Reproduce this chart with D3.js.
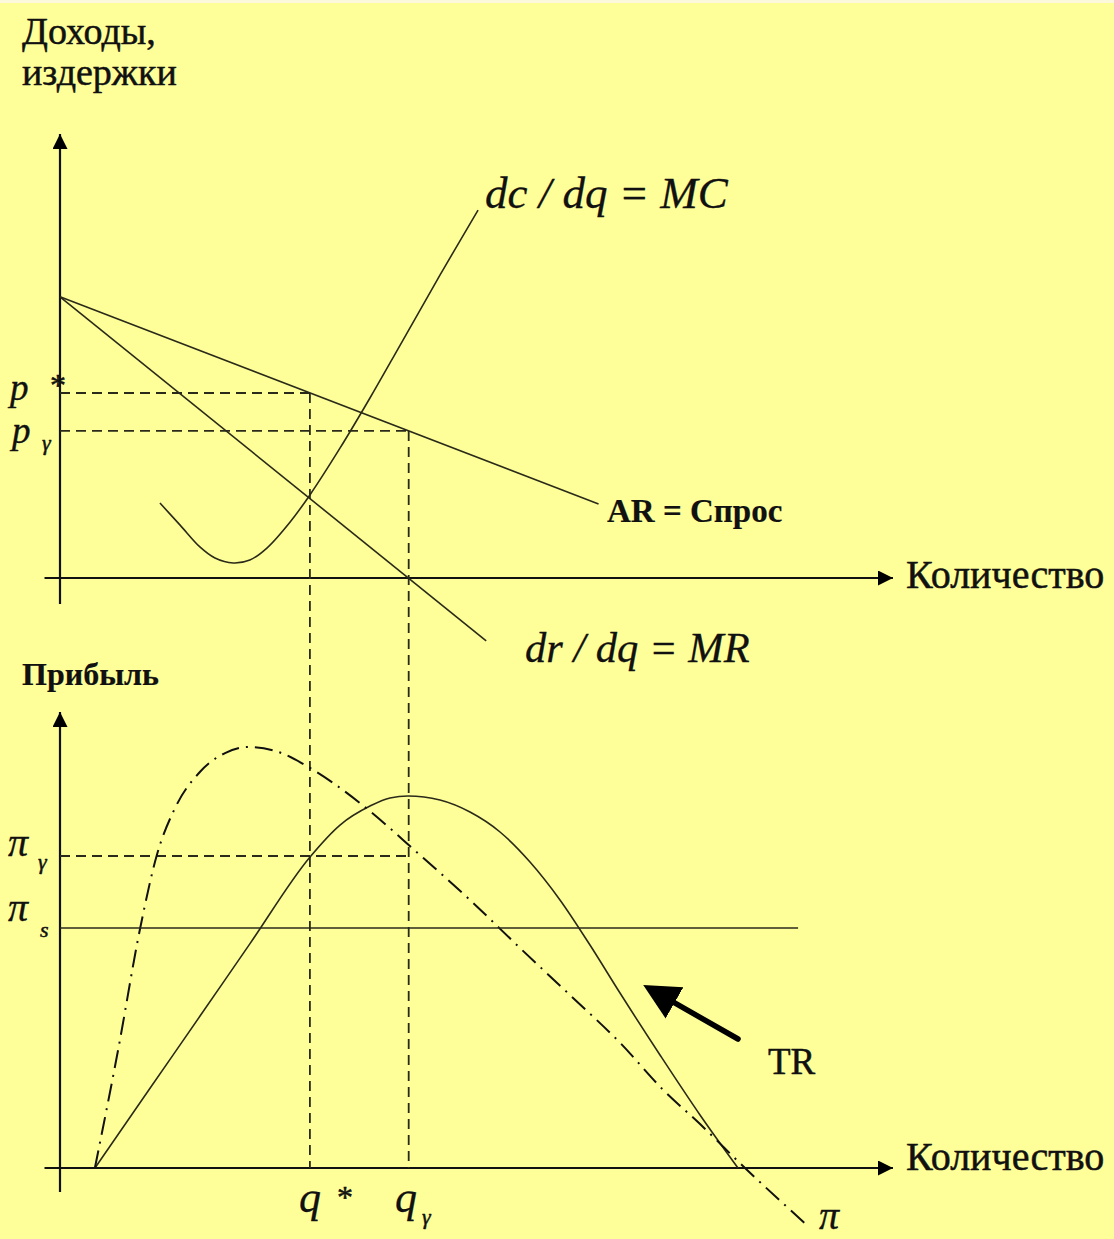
<!DOCTYPE html>
<html><head><meta charset="utf-8">
<script src="https://cdn.jsdelivr.net/npm/d3@7"></script>
<style>body{margin:0;background:#FFFF99;} svg{display:block;}</style>
</head><body>
<script>
// ---------- data ----------
// Top panel: revenues/costs vs quantity
const qStar = 6.45, qR = 9.0;
const pStar = 10.0, pR = 7.95;
const arQ = [0, 13.9], arP = [15.2, 4.0];              // AR = demand
const mrQ = [0, 11.0], mrP = [15.2, -3.4];             // MR
const mcQ = [2.58, 3.10, 3.61, 4.00, 4.47, 4.90, 5.34, 5.94, 6.45, 7.23, 8.00, 8.78, 9.81, 10.79];
const mcP = [4.05, 2.86, 1.68, 1.08, 0.81, 0.97, 1.62, 3.03, 4.49, 7.03, 9.73, 12.59, 16.38, 19.89];
// Bottom panel: profit vs quantity
const piR = 13.0, piS = 10.0, piSEnd = 19.05;
const trQ = [0.903, 2.323, 3.614, 4.904, 6.453, 7.227, 8.001, 8.517, 8.982, 9.808, 10.582, 11.357, 12.131, 12.905, 13.679, 14.454, 15.486, 16.519, 17.499];
const trV = [0, 3.32, 6.33, 9.35, 12.96, 14.29, 15.08, 15.42, 15.5, 15.33, 14.83, 14.0, 12.75, 11.17, 9.29, 7.29, 4.71, 2.21, 0];
const piQ = [0.90, 1.50, 2.07, 2.50, 2.97, 3.61, 4.26, 4.85, 5.55, 6.45, 7.74, 9.29, 10.58, 11.87, 13.16, 14.46, 15.57, 16.52, 17.68, 19.28];
const piV = [0, 4.92, 10.0, 13.04, 15.0, 16.5, 17.29, 17.54, 17.38, 16.67, 15.21, 13.04, 11.17, 9.17, 7.21, 5.21, 3.25, 1.83, 0, -2.38];
const trArrowQ = [17.50, 15.82], trArrowV = [5.375, 6.92];
const labels = {
  yTop1: "Доходы,", yTop2: "издержки", yBot: "Прибыль", x: "Количество",
  mc: "dc / dq = MC", mr: "dr / dq = MR", ar: "AR = Спрос", tr: "TR", pi: "π"
};

// ---------- scales ----------
const W = 1114, H = 1239;
const x = d3.scaleLinear().domain([0, 21.5]).range([60, 893]);
const yT = d3.scaleLinear().domain([0, 24]).range([578, 134]);
const yB = d3.scaleLinear().domain([0, 19]).range([1168, 712]);

const svg = d3.select("body").append("svg").attr("width", W).attr("height", H);
svg.append("rect").attr("width", W).attr("height", H).attr("fill", "#FFFF99");
svg.append("rect").attr("width", W).attr("height", 3).attr("fill", "#FBF8DC");

const defs = svg.append("defs");
defs.append("marker").attr("id", "ah").attr("viewBox", "0 0 10 10").attr("refX", 10).attr("refY", 5)
  .attr("markerWidth", 18).attr("markerHeight", 15).attr("markerUnits", "userSpaceOnUse").attr("orient", "auto")
  .append("path").attr("d", "M0,0 L10,5 L0,10 Z").attr("fill", "#000");
defs.append("marker").attr("id", "ahBig").attr("viewBox", "0 0 10 10").attr("refX", 0.5).attr("refY", 5)
  .attr("markerWidth", 36).attr("markerHeight", 38).attr("markerUnits", "userSpaceOnUse").attr("orient", "auto")
  .append("path").attr("d", "M0,0 L10,5 L0,10 Z").attr("fill", "#000");

const ink = "#2a2a1a";
function seg(x1, y1, x2, y2, opts = {}) {
  const l = svg.append("line").attr("x1", x1).attr("y1", y1).attr("x2", x2).attr("y2", y2)
    .attr("stroke", opts.color || ink).attr("stroke-width", opts.w || 1.6);
  if (opts.dash) l.attr("stroke-dasharray", opts.dash);
  if (opts.marker) l.attr("marker-end", `url(#${opts.marker})`);
  return l;
}

// ---------- axes ----------
seg(x(0), yT(-1.4), x(0), yT(24), { w: 2.2, color: "#111", marker: "ah" });
seg(x(-0.4), yT(0), x(21.5), yT(0), { w: 2.2, color: "#111", marker: "ah" });
seg(x(0), yB(-1.0), x(0), yB(19), { w: 2.2, color: "#111", marker: "ah" });
seg(x(-0.4), yB(0), x(21.5), yB(0), { w: 2.2, color: "#111", marker: "ah" });

// ---------- dashed guides ----------
const dash = "10,6";
seg(x(0), yT(pStar), x(qStar), yT(pStar), { dash, w: 1.8 });
seg(x(0), yT(pR), x(qR), yT(pR), { dash, w: 1.8 });
seg(x(qStar), yT(pStar), x(qStar), yB(0), { dash, w: 1.8 });
seg(x(qR), yT(pR), x(qR), yB(0), { dash, w: 1.8 });
seg(x(0), yB(piR), x(qR), yB(piR), { dash, w: 1.8 });

// ---------- top curves ----------
const lineT = d3.line().x(d => x(d[0])).y(d => yT(d[1]));
svg.append("path").attr("d", lineT(d3.zip(arQ, arP))).attr("fill", "none").attr("stroke", ink).attr("stroke-width", 1.6);
svg.append("path").attr("d", lineT(d3.zip(mrQ, mrP))).attr("fill", "none").attr("stroke", ink).attr("stroke-width", 1.6);
svg.append("path").attr("d", lineT.curve(d3.curveCatmullRom)(d3.zip(mcQ, mcP))).attr("fill", "none").attr("stroke", ink).attr("stroke-width", 1.6);

// ---------- bottom curves ----------
const lineB = d3.line().x(d => x(d[0])).y(d => yB(d[1])).curve(d3.curveMonotoneX);
svg.append("path").attr("d", lineB(d3.zip(trQ, trV))).attr("fill", "none").attr("stroke", ink).attr("stroke-width", 1.6);
svg.append("path").attr("d", lineB(d3.zip(piQ, piV))).attr("fill", "none").attr("stroke", "#111").attr("stroke-width", 2)
  .attr("stroke-dasharray", "18,7,2,7");
seg(x(0), yB(piS), x(piSEnd), yB(piS), { w: 1.6 });

// TR arrow
seg(x(trArrowQ[0]), yB(trArrowV[0]), x(trArrowQ[1]), yB(trArrowV[1]), { w: 5.5, color: "#000", marker: "ahBig" })
  .attr("stroke-linecap", "round");

// ---------- text ----------
const serif = "'Liberation Serif', 'DejaVu Serif', 'Times New Roman', serif";
function txt(s, tx, ty, size, o = {}) {
  return svg.append("text").attr("x", tx).attr("y", ty).attr("font-size", size)
    .attr("font-family", serif).attr("fill", "#111")
    .attr("stroke", "#111").attr("stroke-width", o.sw === undefined ? 0.5 : o.sw)
    .attr("font-style", o.italic ? "italic" : "normal").attr("font-weight", o.bold ? "bold" : "normal").text(s);
}
txt(labels.yTop1, 22, 44, 38);
txt(labels.yTop2, 22, 85, 38);

txt(labels.yBot, 22, 685, 32, { bold: true, sw: 0.2 });
txt(labels.x, 906, 588, 40);
txt(labels.x, 906, 1170, 40);
txt(labels.mc, 485, 208, 45, { italic: true, sw: 0.3 });
txt(labels.mr, 525, 662, 42.5, { italic: true, sw: 0.3 });
txt(labels.ar, 607, 522, 33, { bold: true, sw: 0.2 });
txt(labels.tr, 768, 1074, 37);
txt(labels.pi, 819, 1229, 40, { italic: true, sw: 0.3 });

// price labels p*, p_γ
txt("p", 10, 400, 37, { italic: true, sw: 0.4 });
txt("*", 50, 396, 32);
txt("p", 12, 443, 37, { italic: true, sw: 0.4 });
txt("γ", 42, 450, 22, { italic: true });

txt("π", 8, 856, 40, { italic: true, sw: 0.3 });
txt("γ", 38, 869, 22, { italic: true });
txt("π", 8, 921, 40, { italic: true, sw: 0.3 });
txt("s", 40, 937, 22, { italic: true });
txt("q", 299, 1212, 44, { italic: true, sw: 0.3 });
txt("*", 337, 1208, 32);
txt("q", 395, 1212, 44, { italic: true, sw: 0.3 });
txt("γ", 422, 1224, 22, { italic: true });
</script>
</body></html>
